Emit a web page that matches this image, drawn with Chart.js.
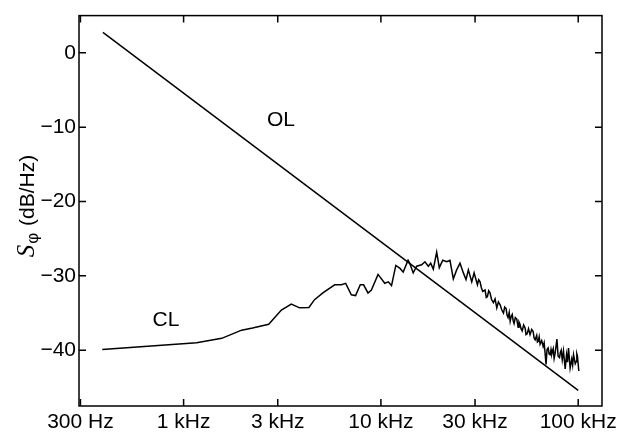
<!DOCTYPE html>
<html>
<head>
<meta charset="utf-8">
<script src="https://cdn.jsdelivr.net/npm/chart.js@4/dist/chart.umd.min.js"></script>
<style>
  html, body { margin: 0; padding: 0; background: #fff; }
  #wrap { width: 618px; height: 432px; position: relative; }
</style>
</head>
<body>
<div id="wrap"><canvas id="chart"></canvas></div>
<script>
// open loop: straight -20 dB/decade line
const olFreq = [390, 100000];
const olDb = [2.75, -45.4];

// closed loop phase noise
const clFreq = [387, 1164, 1560, 1968, 2236, 2700, 3130, 3514, 3870, 4315,
  4610, 5080, 5830, 6300, 6630, 7080, 7440, 7860, 8170, 8600,
  8950, 9670, 10460, 10900, 11320, 11900, 12500, 12970, 13730, 14000,
  14580, 15180, 16090, 16720, 17380, 17880, 18430, 19170, 19770, 20580,
  21550, 22390, 23280, 24210, 25170, 26180, 27000, 27750, 28870, 29670,
  30850, 31300, 31800, 32300, 32820, 33720, 34200, 34630, 35200, 35740,
  36400, 37160, 37900, 38670, 39400, 40200, 41000, 41790, 42400, 43100,
  43600, 44100, 44700, 45200, 45700, 46300, 46800, 47300, 48000, 48800,
  49600, 50100, 50700, 51300, 52000, 52900, 53800, 54400, 55100, 56000,
  57000, 58100, 59100, 59800, 60500, 61600, 62100, 62700, 63400, 64100,
  65300, 66400, 67200, 67900, 68700, 69500, 70400, 71200, 72100, 72800,
  73500, 74700, 75500, 76400, 78000, 79100, 80400, 81200, 82000, 83000,
  84200, 85900, 87300, 88300, 89300, 91000, 92700, 93700, 94700, 96600,
  97700, 98400, 99100, 100700];
const clDb = [-39.9, -39.0, -38.4, -37.3, -37.0, -36.5, -34.6, -33.8, -34.3, -34.25,
  -33.2, -32.3, -31.2, -31.2, -31.0, -32.55, -32.65, -31.2, -31.2, -32.3,
  -31.9, -29.8, -31.0, -30.8, -31.3, -28.6, -29.0, -29.5, -27.9, -28.3,
  -29.6, -28.7, -28.5, -28.1, -28.7, -28.3, -29.1, -26.8, -28.9, -27.9,
  -28.1, -27.9, -30.4, -29.2, -28.3, -29.6, -30.5, -29.2, -30.8, -29.6,
  -31.2, -30.5, -30.8, -31.6, -32.1, -31.9, -32.9, -32.8, -32.0, -32.3,
  -33.2, -33.6, -33.1, -34.3, -33.5, -33.9, -34.6, -35.0, -34.2, -34.4,
  -35.3, -35.6, -34.9, -36.1, -35.5, -35.2, -36.0, -36.4, -35.6, -35.8,
  -36.9, -36.2, -36.5, -37.1, -37.4, -36.6, -37.0, -37.9, -37.8, -37.1,
  -37.9, -37.2, -37.5, -38.4, -38.6, -38.0, -38.9, -38.8, -38.2, -39.2,
  -38.7, -39.5, -39.0, -40.3, -41.9, -39.9, -39.7, -40.5, -40.6, -39.9,
  -40.5, -39.8, -41.1, -40.4, -38.5, -40.8, -41.0, -40.3, -40.0, -41.3,
  -40.1, -42.5, -40.6, -41.6, -39.7, -42.4, -41.2, -42.0, -40.6, -41.8,
  -41.5, -40.5, -40.8, -42.8];

const xTicks = [300, 1000, 3000, 10000, 30000, 100000];
const xTickLabels = ['300 Hz', '1 kHz', '3 kHz', '10 kHz', '30 kHz', '100 kHz'];
const yTicks = [0, -10, -20, -30, -40];

const toPoints = (xs, ys) => xs.map((x, i) => ({ x: x, y: ys[i] }));

// frame with inward ticks on all four sides, plus the axis title and curve labels
const framePlugin = {
    id: 'frame',
    afterDraw(chart) {
        const ctx = chart.ctx;
        const a = chart.chartArea;
        const xs = chart.scales.x, ys = chart.scales.y;
        const len = 7;
        ctx.save();
        ctx.strokeStyle = '#000';
        ctx.lineWidth = 1.5;
        ctx.strokeRect(a.left, a.top, a.right - a.left, a.bottom - a.top);
        ctx.beginPath();
        xTicks.forEach(v => {
            const px = xs.getPixelForValue(v);
            ctx.moveTo(px, a.bottom); ctx.lineTo(px, a.bottom - len);
            ctx.moveTo(px, a.top); ctx.lineTo(px, a.top + len);
        });
        yTicks.forEach(v => {
            const py = ys.getPixelForValue(v);
            ctx.moveTo(a.left, py); ctx.lineTo(a.left + len, py);
            ctx.moveTo(a.right, py); ctx.lineTo(a.right - len, py);
        });
        ctx.stroke();

        ctx.fillStyle = '#000';
        ctx.textAlign = 'center';
        ctx.textBaseline = 'middle';
        ctx.font = '21px "Liberation Sans", Arial, sans-serif';
        ctx.fillText('OL', 281, 120);
        ctx.fillText('CL', 166, 320);

        // y title: S_phi (dB/Hz), rotated
        const fS = 'italic 25px "Liberation Serif", serif';
        const fSub = '17px "Liberation Sans", Arial, sans-serif';
        const fMain = '21px "Liberation Sans", Arial, sans-serif';
        ctx.font = fS; const wS = ctx.measureText('S').width;
        ctx.font = fSub; const wSub = ctx.measureText('\u03c6').width;
        ctx.font = fMain; const wMain = ctx.measureText(' (dB/Hz)').width;
        const total = wS + wSub + 2 + wMain;
        ctx.translate(34, 206);
        ctx.rotate(-Math.PI / 2);
        ctx.textAlign = 'left';
        ctx.textBaseline = 'alphabetic';
        let cx = -total / 2;
        ctx.font = fS; ctx.fillText('S', cx, 0); cx += wS + 1;
        ctx.font = fSub; ctx.fillText('\u03c6', cx, 4); cx += wSub + 1;
        ctx.font = fMain; ctx.fillText(' (dB/Hz)', cx, 0);
        ctx.restore();
    }
};

new Chart(document.getElementById('chart'), {
    type: 'line',
    data: {
        datasets: [{
            label: 'OL',
            data: toPoints(olFreq, olDb),
            borderColor: '#000',
            borderWidth: 1.5,
            pointRadius: 0,
            tension: 0
        }, {
            label: 'CL',
            data: toPoints(clFreq, clDb),
            borderColor: '#000',
            borderWidth: 1.5,
            pointRadius: 0,
            tension: 0
        }]
    },
    options: {
        responsive: true,
        maintainAspectRatio: false,
        animation: false,
        layout: { padding: { left: 0, top: 12, right: 16, bottom: 0 } },
        scales: {
            x: {
                type: 'logarithmic',
                min: 295,
                max: 132000,
                grid: { display: false, drawTicks: false },
                border: { display: false },
                afterBuildTicks: scale => { scale.ticks = xTicks.map(v => ({ value: v })); },
                afterFit: scale => {
                    scale.height = 26;
                    scale.paddingLeft = 0;
                    scale.paddingRight = 0;
                },
                ticks: {
                    color: '#000',
                    padding: 4,
                    maxRotation: 0,
                    autoSkip: false,
                    font: { family: '"Liberation Sans", Arial, sans-serif', size: 21 },
                    callback: (value, index) => xTickLabels[index]
                }
            },
            y: {
                type: 'linear',
                min: -47.5,
                max: 5,
                grid: { display: false, drawTicks: false },
                border: { display: false },
                afterBuildTicks: scale => { scale.ticks = yTicks.map(v => ({ value: v })); },
                afterFit: scale => { scale.width = 79; },
                ticks: {
                    color: '#000',
                    padding: 3,
                    font: { family: '"Liberation Sans", Arial, sans-serif', size: 21 },
                    callback: value => value < 0 ? '\u2212' + Math.abs(value) : String(value)
                }
            }
        },
        plugins: {
            legend: { display: false },
            tooltip: { enabled: false }
        }
    },
    plugins: [framePlugin]
});
</script>
</body>
</html>
